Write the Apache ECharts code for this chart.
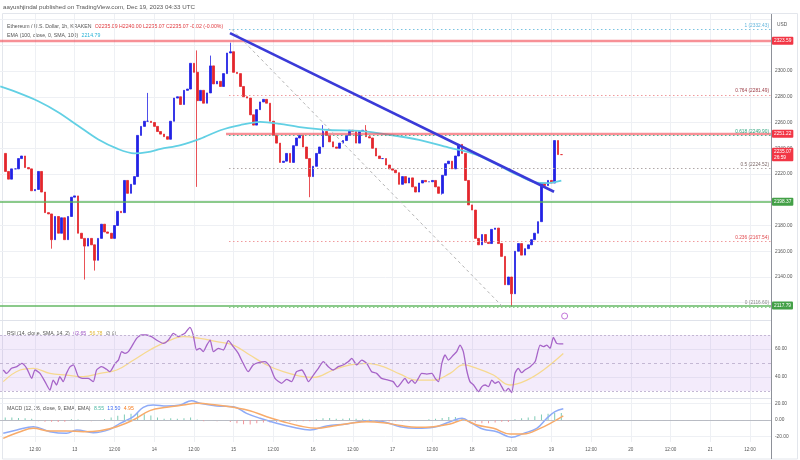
<!DOCTYPE html>
<html><head><meta charset="utf-8">
<script src="https://cdn.jsdelivr.net/npm/echarts@6/dist/echarts.min.js"></script>
<style>html,body{margin:0;padding:0;background:#fff}#c{width:800px;height:460px}</style>
</head><body><div id="c"></div><script>
const FONT = '"Liberation Sans", Arial, "DejaVu Sans", sans-serif';
// hour index: 0 = Dec 12 00:00
const firstHour = 3;
const firstOpen = 2236;
const closes = [
  2222,2216,2224,2224,2232,2234,2225,2224,2207,2208,   // h3-12
  2222,2206,2190,2189,2169,2187,2174,2186,2169,2187,   // h13-22
  2202,2203,2174,2170,2164,2170,2165,2153,2170,2181,   // h23-32
  2175,2174,2170,2180,2191,2190,2215,2205,2212,2218,   // h33-42
  2250,2257,2261,2261,2260,2257,2253,2251,2249,2247,   // h43-52
  2261,2279,2280,2274,2285,2286,2306,2299,2277,2285,   // h53-62
  2275,2283,2304,2290,2292,2288,2298,2314,2315,2299,   // h63-72
  2298,2288,2280,2279,2266,2258,2270,2276,2278,2275,   // h73-82
  2261,2250,2244,2229,2230,2236,2229,2242,2248,2250,   // h83-92
  2241,2232,2218,2226,2236,2241,2253,2250,2245,2241,   // h93-102
  2240,2244,2246,2250,2254,2253,2244,2253,2254,2249,   // h103-112
  2248,2240,2234,2232,2232,2227,2224,2223,2221,2212,   // h113-122
  2218,2213,2217,2210,2206,2213,2215,2214,2214,2215,   // h123-132
  2210,2205,2219,2228,2230,2224,2234,2243,2236,2215,   // h133-142
  2196,2192,2170,2165,2173,2167,2166,2177,2178,2166,   // h143-152
  2156,2134,2140,2127,2160,2166,2157,2162,2165,2169,   // h153-162
  2174,2183,2213,2211,2215,2213,2246,2235.09,2235.07   // h163-171
];
const wickHighs = [[46,2283],[61,2316],[65,2312],[71,2322],[99,2258],[112,2258]];
const wickLows = [[17,2162],[27,2138],[30,2145],[61,2210],[95,2202],[135,2204],[156,2117]];

const emaPts = [[1.5,2288],[7,2283],[13,2276.5],[19,2268],[25,2257.5],[31,2247],[37,2239.5],[42,2236],[46,2237],[50,2239.5],[56,2242.5],[62,2247.5],[68,2254],[74,2258],[80,2260.5],[86,2259],[92,2256.5],[101,2254.2],[110,2253.5],[119,2250.5],[128,2246.5],[137,2240.5],[143,2237],[148,2232],[153,2225.5],[158,2219],[163,2213.5],[167,2213],[171,2214.8]];

const rsiPts = [[2.4,45],[3.4,42.6],[4.9,46.2],[6.5,47.4],[8,49.7],[9.5,46.2],[11,39],[12,45],[13.5,42.6],[15,36.7],[16.5,30.7],[17.5,37.8],[18.5,34.3],[19.5,40.2],[20.5,36.7],[21.5,42.6],[22.6,47.4],[23.6,48.6],[25.1,40.2],[26.6,39],[28.1,39],[29.6,36.7],[30.6,45],[32.1,47.4],[33.6,45.5],[34.6,43.8],[36.2,49.7],[37.2,52.1],[38.2,58.1],[39.2,56.9],[40.2,58.1],[41.2,61.7],[42.7,67.6],[44.2,70],[45.7,70],[47.2,68.8],[48.7,66.4],[50.8,64],[52.3,66.4],[53.8,71.2],[55.3,68.8],[56.3,70],[57.3,71.2],[58.8,75.5],[59.8,70],[60.8,59.3],[61.8,60.5],[62.8,58.1],[63.9,62.8],[64.9,66.4],[65.9,58.1],[67.4,60.5],[68.9,59.3],[70.4,66],[71.9,61.7],[73.4,56.9],[74.9,49.7],[76.4,43.8],[77.9,48.6],[79.5,50.2],[81.5,51],[83,47.4],[84.5,39],[86.5,35.5],[88,38.3],[89.5,36.7],[91,43.8],[92.6,45],[93.6,41.4],[94.6,36.7],[96.1,41.4],[97.6,46.2],[99.1,51],[100.6,47.4],[102.1,45],[103.6,47.4],[105.1,48.6],[106.7,51],[107.7,53.3],[109.2,48.6],[110.7,52.1],[112.2,49.7],[113.7,43.8],[115.2,42.6],[116.7,39],[118.7,37.8],[120.2,36.7],[121.5,33],[123.8,39],[124.8,35.5],[125.8,37.8],[126.8,35.5],[127.8,39],[128.8,42.6],[130.4,42.1],[131.9,42.6],[132.9,39],[133.9,36.7],[134.9,49.7],[135.9,55.7],[136.9,52.1],[138.4,55.7],[139.4,58.1],[140.4,62.8],[141.4,58.1],[142.4,45],[143.4,36.7],[144.5,34.3],[146,29.5],[147,33.1],[148,34.3],[149,33.1],[150,37.8],[151,35.5],[152,36.7],[153,33.1],[154,29.5],[155,31.9],[156,28.8],[157,42.6],[158,46.2],[159,43.1],[160,45],[161.6,47.4],[163.1,51],[164.6,62.8],[165.6,61.7],[166.6,62.8],[167.6,60.5],[168.6,68.3],[169.6,64],[170.6,63.6],[171.6,63.65]];
const rsiSmaPts = [[2.4,36.7],[7.5,45],[11.5,46.2],[16.5,42.6],[21.5,41.4],[26.6,40.2],[31.6,42.6],[36.7,45],[41.7,52],[46.7,59.3],[51.8,65.2],[56.8,68.8],[61.8,67.6],[66.9,65.2],[71.9,62.8],[76.9,55.7],[82,48.6],[87,43.8],[92,40.7],[96.1,39.7],[102.1,45],[107.2,48.6],[112.2,49.7],[117.2,47.4],[122.3,42],[127.3,37.8],[132.4,37.8],[137.4,42.6],[141.4,48.6],[145.5,46.2],[150.5,41.4],[155.5,34.3],[160.6,37.8],[165.6,45],[171.6,56.78]];

const macdPts = [[2.4,-16],[6.5,-12],[11.5,-8],[16.5,-14],[21.5,-16],[24.6,-12],[29.6,-15.2],[34.6,-11.2],[37.7,-4],[41.7,4],[44.7,15.2],[47.7,18],[51.8,16.8],[55.8,18],[59.3,23.2],[61.8,20],[66.9,16.8],[71.9,16],[75.9,8],[80,2],[85,-4],[90,-8.8],[95.1,-12],[100.1,-7.2],[106.2,-4.8],[112.2,-0.8],[117.2,-2],[122.3,-8],[127.3,-10],[132.4,-8.8],[137.4,-2],[141,2],[144,-4],[147.5,-11.2],[151.5,-14],[156,-20.8],[159.6,-16],[163.6,-10],[166.6,2],[169.1,10],[171.6,13.5]];
const signalPts = [[2.4,-22],[7.5,-14],[11.5,-10],[16.5,-13.2],[21.5,-13.2],[26.6,-14],[31.6,-12.8],[36.7,-8],[41.7,0],[46.7,11.2],[51.8,15.2],[56.8,18],[60.8,20],[66.9,18],[71.9,15.2],[76.9,11.2],[82,4],[87,-2],[92,-7.2],[97.1,-10],[102.1,-7.2],[107.2,-4],[112.2,-2],[117.2,-3.2],[122.3,-6.5],[127.3,-8.8],[132.4,-8],[137.4,-4.8],[141.4,0],[145.5,-6],[150.5,-10],[155.5,-16.8],[159.6,-16.8],[164.6,-10],[168.6,-2],[171.6,4.95]];
const histPts = [[3,3],[5,3],[7,2.5],[9,2],[11,1.5],[13,-1.5],[15,-2],[17,-2],[19,-2.5],[21,-2],[23,1],[25,0.5],[27,-1],[29,-1.5],[31,-0.5],[33,1],[35,3],[37,5],[39,6.5],[41,7.5],[43,8.5],[45,7],[47,5.5],[49,3],[51,1.5],[53,2],[55,1.5],[57,2],[59,3],[61,0.5],[63,-1.5],[65,-1],[67,-1.5],[69,-1],[71,-2.5],[73,-4],[75,-5],[77,-5.5],[79,-4],[81,-3],[83,-3],[85,-2.5],[87,-2.5],[89,-2],[91,-1.5],[93,-1.5],[95,-1.5],[97,1],[99,2],[101,2.5],[103,1.5],[105,1.5],[107,2],[109,1.5],[111,1.5],[113,0.5],[115,-0.5],[117,-1],[119,-1.5],[121,-1.5],[123,-1.5],[125,-1.5],[127,-1],[129,-0.5],[131,1],[133,1.5],[135,2.5],[137,3.5],[139,3.5],[141,2],[143,-1],[145,-3],[147,-4],[149,-4],[151,-3],[153,-2],[155,-2.5],[157,1],[159,2],[161,3],[163,4.5],[165,6.5],[167,7.5],[169,8.5],[171,8.55]];

const priceLabels = [2140,2160,2180,2220,2240,2260,2280,2300];
const priceGridVals = [2120,2140,2160,2180,2200,2220,2240,2260,2280,2300,2320,2340];
const timeTicks = [12,24,36,48,60,72,84,96,108,120,132,144,156,168,180,192,204,216,228];
const rsiLabels = [40,60];
const macdLabels = [-20,0,20];
const fibLevels = [['1',2332.43,'#7cc3e0','#62b5dc'],['0.764',2281.49,'#f09a9d','#9b3a44'],['0.618',2249.90,'#49b89a','#2ea47e'],['0.5',2224.52,'#b0a8a8','#7d6a6a'],['0.236',2167.54,'#f09a9d','#e0474c'],['0',2116.60,'#8fcf8f','#8a8a8a']];
const fibStartHour = 70.6;
const fibTrend = [[71.5,2332.43],[153.4,2116.6]];
const downTrend = [[70.9,2329.5],[168.8,2206.2]];
const redLevels = [[2323.59,1.42],[2251.22,69.7]];
const greenLevels = [[2198.37,1.42],[2117.79,1.42]];
const lastPrice = 2235.07, countdown = '26:59';
const eventPt = [172,2109.7];

const X_MIN = 1.42, X_MAX = 234.35;
const UP = '#2222e4', DOWN = '#e3262c';

const candles = closes.map((c,i)=>{
  const h = firstHour + i;
  const o = i === 0 ? firstOpen : closes[i-1];
  let lo = Math.min(o,c), hi = Math.max(o,c);
  const wh = wickHighs.find(w=>w[0]===h); if (wh) hi = wh[1];
  const wl = wickLows.find(w=>w[0]===h); if (wl) lo = wl[1];
  return [h,o,c,lo,hi];
});

const boxLabel = (txt, bg) => ({show:true, position:'end', distance:1, formatter:txt, color:'#fff', backgroundColor:bg, padding:[1.5,2,1,2], fontSize:4.8, fontFamily:FONT, borderRadius:1, lineHeight:5.5});
const priceMarks = [];
redLevels.forEach(([v,s])=>priceMarks.push([{coord:[s,v], lineStyle:{color:'rgba(242,70,80,0.6)', width:2.4, type:'solid'}, label:boxLabel(v.toFixed(2),'#f23645')},{coord:[X_MAX,v]}]));
greenLevels.forEach(([v,s])=>priceMarks.push([{coord:[s,v], lineStyle:{color:'rgba(90,180,90,0.7)', width:2, type:'solid'}, label:boxLabel(v.toFixed(2),'#43a047')},{coord:[X_MAX,v]}]));
fibLevels.forEach(([k,v,lc,tc])=>priceMarks.push([{coord:[fibStartHour,v], lineStyle:{color:lc, width:1.1, type:[1.5,2.5]}, label:{show:true, position:'insideEndTop', distance:[2,1.5], formatter:k+' ('+v.toFixed(2)+')', color:tc, fontSize:4.8, fontFamily:FONT}},{coord:[X_MAX,v]}]));
priceMarks.push([{coord:[candles[candles.length-1][0],lastPrice], lineStyle:{color:'rgba(0,0,0,0)', width:0}, label:boxLabel(lastPrice.toFixed(2)+'\n'+countdown,'#f23645')},{coord:[X_MAX,lastPrice]}]);
priceMarks.push([{coord:fibTrend[0], lineStyle:{color:'#b5b5b5', width:1, type:[3,3]}, label:{show:false}},{coord:fibTrend[1]}]);
priceMarks.push([{coord:downTrend[0], lineStyle:{color:'#3a3ad8', width:2.6, type:'solid'}, label:{show:false}},{coord:downTrend[1]}]);

const gridLine = {show:true, lineStyle:{color:'#eef0f4', width:1}};
const xAx = (gi, show) => ({
  type:'value', gridIndex:gi, min:X_MIN, max:X_MAX,
  axisLine:{show:true, lineStyle:{color: gi===2 ? '#b8bbc3' : '#dfe2ea', width:1}},
  axisTick:{show:false, customValues:timeTicks},
  axisLabel:{show:show, customValues:timeTicks, formatter:v=> (v%24===0 ? String(12+v/24) : '12:00'), fontSize:4.6, color:'#555', margin:5, fontFamily:FONT},
  splitLine:gridLine
});
const yAx = (gi, min, max, labels, grid, fmt) => ({
  type:'value', gridIndex:gi, position:'right', min:min, max:max,
  axisLine:{show:false}, axisTick:{show:false, customValues:grid},
  axisLabel:{customValues:labels, formatter:fmt, fontSize:4.8, color:'#555', margin:4, fontFamily:FONT},
  splitLine:gridLine
});

const chart = echarts.init(document.getElementById('c'), null, {renderer:'canvas'});
chart.setOption({
  animation:false,
  backgroundColor:'#fff',
  grid:[
    {left:0, right:29, top:14, height:306},
    {left:0, right:29, top:321, height:77},
    {left:0, right:29, top:399, height:43}
  ],
  xAxis:[xAx(0,false), xAx(1,false), xAx(2,true)],
  yAxis:[
    yAx(0,2106.6,2344.3,priceLabels,priceGridVals,v=>v.toFixed(2)),
    yAx(1,25,80,rsiLabels,rsiLabels,v=>v.toFixed(2)),
    yAx(2,-26.4,25.2,macdLabels,[-20,20],v=>v.toFixed(2))
  ],
  graphic:[
    {type:'rect', shape:{x:2.5,y:13.5,width:795,height:445.5}, style:{fill:'none', stroke:'#e3e6ec', lineWidth:1}, silent:true, z:-1},
    {type:'line', shape:{x1:771.5,y1:14,x2:771.5,y2:459}, style:{stroke:'#8e9199', lineWidth:1}, silent:true, z:10},
    {type:'text', left:3, top:4.5, style:{text:'aayushjindal published on TradingView.com, Dec 19, 2023 04:33 UTC', fill:'#555', fontSize:6.2, fontFamily:FONT}, silent:true},
    {type:'text', left:7, top:21, style:{text:'{a|Ethereum / U.S. Dollar, 1h, KRAKEN} {r|O2235.09 H2240.00 L2235.07 C2235.07 -0.02 (-0.00%)}', rich:{a:{fill:'#555',fontSize:5.2,fontFamily:FONT}, r:{fill:'#e0393e',fontSize:5.2,fontFamily:FONT}}}, silent:true},
    {type:'text', left:7, top:30, style:{text:'{a|EMA (100, close, 0, SMA, 100)} {c|2214.79}', rich:{a:{fill:'#555',fontSize:5.2,fontFamily:FONT}, c:{fill:'#2bb3d6',fontSize:5.2,fontFamily:FONT}}}, silent:true},
    {type:'text', left:7, top:327.5, style:{text:'{a|RSI (14, close, SMA, 14, 2)} {p|63.65} {y|56.78} {a|\u2205 \u2205}', rich:{a:{fill:'#555',fontSize:5.2,fontFamily:FONT}, p:{fill:'#9c4fc4',fontSize:5.2,fontFamily:FONT}, y:{fill:'#e3b93a',fontSize:5.2,fontFamily:FONT}}}, silent:true},
    {type:'text', left:7, top:402.5, style:{text:'{a|MACD (12, 26, close, 9, EMA, EMA)} {g|8.55} {b|13.50} {o|4.95}', rich:{a:{fill:'#555',fontSize:5.2,fontFamily:FONT}, g:{fill:'#4cb8a4',fontSize:5.2,fontFamily:FONT}, b:{fill:'#3d6cf2',fontSize:5.2,fontFamily:FONT}, o:{fill:'#f57c1f',fontSize:5.2,fontFamily:FONT}}}, silent:true},
    {type:'text', left:777, top:22, style:{text:'USD', fill:'#555', fontSize:4.8, fontFamily:FONT}, silent:true}
  ],
  series:[
    {type:'candlestick', xAxisIndex:0, yAxisIndex:0, data:candles, encode:{x:0, y:[1,2,3,4]}, barWidth:2.2, z:2,
     itemStyle:{color:UP, color0:DOWN, borderColor:UP, borderColor0:DOWN, borderWidth:0.8}},
    {type:'line', xAxisIndex:0, yAxisIndex:0, data:emaPts, showSymbol:false, smooth:0.3, clip:false, z:3,
     lineStyle:{color:'#62d0e4', width:1.8},
     markLine:{silent:true, symbol:['none','none'], animation:false, data:priceMarks}},
    {type:'scatter', xAxisIndex:0, yAxisIndex:0, data:[eventPt], symbol:'circle', symbolSize:6, z:5,
     itemStyle:{color:'#fff', borderColor:'#b356cf', borderWidth:1}},
    {type:'line', xAxisIndex:1, yAxisIndex:1, data:rsiSmaPts, showSymbol:false, smooth:0.4, z:3,
     lineStyle:{color:'#f6d98f', width:1.3}},
    {type:'line', xAxisIndex:1, yAxisIndex:1, data:rsiPts, showSymbol:false, smooth:0.2, z:4, clip:false,
     lineStyle:{color:'#a664c8', width:1.3},
     markArea:{silent:true, itemStyle:{color:'rgba(170,110,230,0.14)'}, data:[[{yAxis:30},{yAxis:70}]]},
     markLine:{silent:true, symbol:['none','none'], label:{show:false}, data:[
       {yAxis:70, lineStyle:{color:'#c4b8d4', type:[2,2], width:1}},
       {yAxis:50, lineStyle:{color:'#c4b8d4', type:[3,3], width:1}},
       {yAxis:30, lineStyle:{color:'#c4b8d4', type:[2,2], width:1}}]}},
    {type:'bar', xAxisIndex:2, yAxisIndex:2, data:histPts, barWidth:1, z:2,
     itemStyle:{color:p=> p.value[1] >= 0 ? '#7fcbb6' : '#f2959b'},
     markLine:{silent:true, symbol:['none','none'], label:{show:false}, data:[{yAxis:0, lineStyle:{color:'#b9bcc4', type:[3,3], width:1}}]}},
    {type:'line', xAxisIndex:2, yAxisIndex:2, data:macdPts, showSymbol:false, smooth:0.4, z:3,
     lineStyle:{color:'#8eabf7', width:1.5}},
    {type:'line', xAxisIndex:2, yAxisIndex:2, data:signalPts, showSymbol:false, smooth:0.4, z:4,
     lineStyle:{color:'#f8ab6a', width:1.5}}
  ]
});
</script></body></html>
